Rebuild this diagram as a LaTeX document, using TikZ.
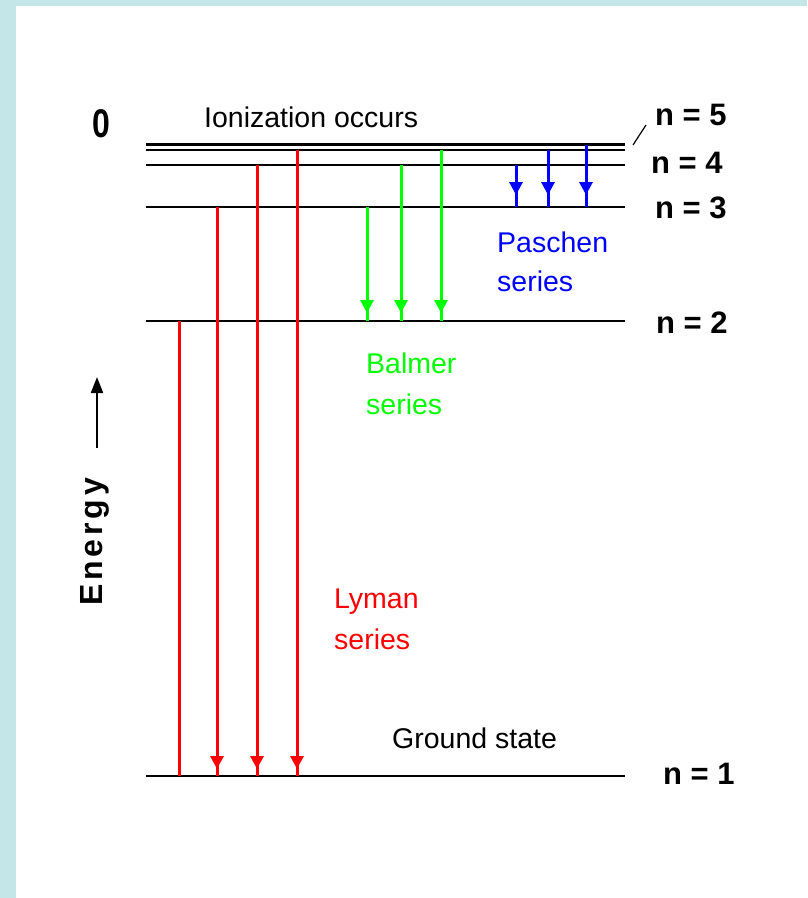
\documentclass[tikz,border=0pt]{standalone}
\usepackage{fontspec}
\setmainfont{Liberation Sans}
\usetikzlibrary{arrows.meta,calc}
\definecolor{bgblue}{RGB}{196,230,232}
\definecolor{lred}{RGB}{255,0,0}
\definecolor{lgreen}{RGB}{0,255,0}
\definecolor{lblue}{RGB}{0,0,255}
\begin{document}
\begin{tikzpicture}[x=1pt,y=-1pt,
  level/.style={line width=2.4pt, black},
  trans/.style={line width=3pt},
  head/.style={-{Triangle[width=13pt,length=13pt]}},
  lbl/.style={font=\fontsize{28.5}{34}\selectfont, inner sep=0pt, anchor=base west},
  nlbl/.style={font=\bfseries\fontsize{31}{36}\selectfont, inner sep=0pt, anchor=base west}]
\useasboundingbox (0,0) rectangle (807,898);
\fill[bgblue] (0,0) rectangle (807,898);
\fill[white] (16,6) rectangle (807,898);
% level coordinates
\coordinate (i0) at (146,144.5); \coordinate (i1) at (625,144.5);
\coordinate (a0) at (146,150);   \coordinate (a1) at (625,150);
\coordinate (b0) at (146,165);   \coordinate (b1) at (625,165);
\coordinate (c0) at (146,207);   \coordinate (c1) at (625,207);
\coordinate (d0) at (146,321);   \coordinate (d1) at (625,321);
\coordinate (e0) at (146,776);   \coordinate (e1) at (625,776);
\foreach \l in {i,a,b,c,d,e} \draw[level] (\l0) -- (\l1);
% Lyman
\coordinate (ly1s) at (179,321); \coordinate (ly1e) at (179,776);
\coordinate (ly2s) at (217,207); \coordinate (ly2e) at (217,776);
\coordinate (ly3s) at (257,165); \coordinate (ly3e) at (257,776);
\coordinate (ly4s) at (297,150); \coordinate (ly4e) at (297,776);
\draw[trans,lred] (ly1s) -- (ly1e);
\foreach \k in {2,3,4}{
  \draw[trans,lred] (ly\k s) -- (ly\k e);
  \draw[trans,lred,head] (ly\k s) -- ($(ly\k e)+(0,-7)$);
}
% Balmer
\coordinate (ba1s) at (367,207); \coordinate (ba1e) at (367,321);
\coordinate (ba2s) at (401,165); \coordinate (ba2e) at (401,321);
\coordinate (ba3s) at (441,150); \coordinate (ba3e) at (441,321);
\foreach \k in {1,2,3}{
  \draw[trans,lgreen] (ba\k s) -- (ba\k e);
  \draw[trans,lgreen,head] (ba\k s) -- ($(ba\k e)+(0,-8)$);
}
% Paschen
\coordinate (pa1s) at (516,165); \coordinate (pa1e) at (516,207);
\coordinate (pa2s) at (548,150); \coordinate (pa2e) at (548,207);
\coordinate (pa3s) at (586,144.5); \coordinate (pa3e) at (586,207);
\foreach \k in {1,2,3}{
  \draw[trans,lblue] (pa\k s) -- (pa\k e);
  \draw[trans,lblue,head] (pa\k s) -- ($(pa\k e)+(0,-12)$);
}
% labels
\node[font=\bfseries\fontsize{40}{40}\selectfont, inner sep=0pt, anchor=base west] (zero) at (92,137) {\scalebox{0.8}[1]{0}};
\node[lbl] (ion) at (204,127) {Ionization occurs};
\node[nlbl] (n5) at (655,125) {n = 5};
\node[nlbl] (n4) at (651,173) {n = 4};
\node[nlbl] (n3) at (655,218) {n = 3};
\node[nlbl] (n2) at (656,333) {n = 2};
\node[nlbl] (n1) at (663,784) {n = 1};
\coordinate (sl0) at (633,145); \coordinate (sl1) at (646,125);
\draw[line width=1.2pt] (sl0) -- (sl1);
\node[lbl, text=lblue] (pas1) at (497,252) {Paschen};
\node[lbl, text=lblue] (pas2) at (497,291) {series};
\node[lbl, text=lgreen] (bal1) at (366,373) {Balmer};
\node[lbl, text=lgreen] (bal2) at (366,414) {series};
\node[lbl, text=lred] (lym1) at (334,608) {Lyman};
\node[lbl, text=lred] (lym2) at (334,649) {series};
\node[lbl] (gs) at (392,748) {Ground state};
% Energy axis
\node[font=\bfseries\fontsize{32}{36}\selectfont\addfontfeature{LetterSpace=12}, inner sep=0pt, rotate=90] (en) at (95,542) {Energy};
\coordinate (ea0) at (97,448); \coordinate (ea1) at (97,377);
\draw[line width=2pt,-{Triangle[width=12pt,length=16pt]}] (ea0) -- (ea1);
\end{tikzpicture}
\end{document}
